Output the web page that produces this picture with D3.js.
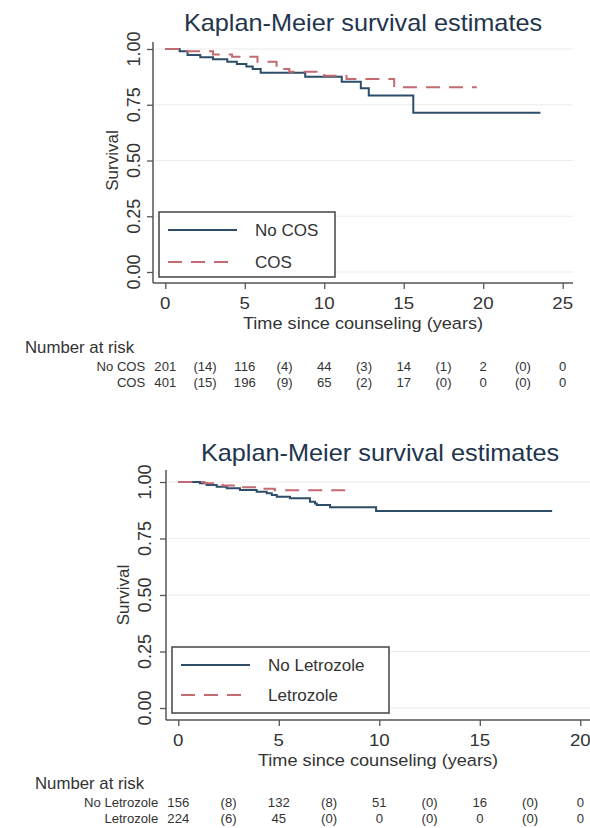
<!DOCTYPE html>
<html>
<head>
<meta charset="utf-8">
<script src="https://cdn.jsdelivr.net/npm/d3@7"></script>
<style>
  html, body { margin: 0; padding: 0; background: #fff; }
  svg { display: block; }
  text { font-family: "Liberation Sans", Arial, Helvetica, sans-serif; }
</style>
</head>
<body>
<svg id="chart" width="590" height="828"></svg>
<script>
// ---------------- DATA ----------------
const titleText = "Kaplan-Meier survival estimates";
const xTitle = "Time since counseling (years)";
const yTitle = "Survival";
const yTicks = [0, 0.25, 0.5, 0.75, 1.0];

// Chart 1: COS vs No COS
const chart1XTicks = [0, 5, 10, 15, 20, 25];
const noCosTimes = [0, 0.9, 1.4, 2.2, 3.0, 3.9, 4.5, 5.1, 5.5, 6.0, 8.8, 11.1, 12.3, 12.8, 15.6, 23.6];
const noCosSurv  = [1.0, 0.99, 0.973, 0.963, 0.954, 0.943, 0.933, 0.921, 0.91, 0.894, 0.876, 0.853, 0.824, 0.791, 0.714, 0.714];
const cosTimes = [0, 1.3, 3.0, 4.2, 5.8, 7.0, 7.8, 10.0, 11.4, 14.4, 19.6];
const cosSurv  = [1.0, 0.99, 0.975, 0.965, 0.943, 0.91, 0.898, 0.88, 0.866, 0.828, 0.828];
const chart1Groups = ["No COS", "COS"];
const chart1RiskTimes = [0, 5, 10, 15, 20, 25];
const noCosAtRisk = [201, 116, 44, 14, 2, 0];
const noCosCensored = [14, 4, 3, 1, 0];
const cosAtRisk = [401, 196, 65, 17, 0, 0];
const cosCensored = [15, 9, 2, 0, 0];

// Chart 2: Letrozole vs No Letrozole
const chart2XTicks = [0, 5, 10, 15, 20];
const noLetTimes = [0, 1.08, 1.41, 1.91, 2.41, 3.07, 3.9, 4.4, 4.65, 4.9, 5.56, 6.55, 6.8, 6.89, 7.55, 9.84, 18.6];
const noLetSurv  = [1.0, 0.994, 0.987, 0.979, 0.972, 0.965, 0.957, 0.95, 0.942, 0.935, 0.928, 0.913, 0.905, 0.898, 0.888, 0.872, 0.872];
const letTimes = [0, 1.3, 2.2, 3.0, 4.0, 4.8, 8.5];
const letSurv  = [1.0, 0.995, 0.985, 0.977, 0.97, 0.964, 0.964];
const chart2Groups = ["No Letrozole", "Letrozole"];
const chart2RiskTimes = [0, 5, 10, 15, 20];
const noLetAtRisk = [156, 132, 51, 16, 0];
const noLetCensored = [8, 8, 0, 0];
const letAtRisk = [224, 45, 0, 0, 0];
const letCensored = [6, 0, 0, 0];

// ---------------- STYLE ----------------
const colSolid = "#2e4d68";
const colDash = "#c46a72";
const axisCol = "#555";
const textCol = "#333";
const titleCol = "#22354d";
const gridCol = "#ececec";

const svg = d3.select("#chart");

function txt(g, x, y, s, o = {}) {
  const sx = o.sx || 1;
  const rot = o.rot || 0;
  return g.append("text")
    .attr("transform", `translate(${x},${y}) rotate(${rot}) scale(${sx},1)`)
    .attr("text-anchor", o.anchor || "middle")
    .attr("dy", "0.36em")
    .attr("font-size", o.size || 14)
    .attr("fill", o.fill || textCol)
    .text(s);
}

function drawChart(c) {
  const g = svg.append("g");
  const x = d3.scaleLinear().domain(c.xDomain).range(c.xRange);
  const y = d3.scaleLinear().domain([0, 1]).range(c.yRange);

  // title
  txt(g, c.titleX, c.titleY, titleText, { size: 23, sx: 1.1, fill: titleCol });

  // gridlines
  g.append("g").selectAll("line").data(yTicks).join("line")
    .attr("x1", c.axisX + 2).attr("x2", c.gridRight)
    .attr("y1", d => y(d)).attr("y2", d => y(d))
    .attr("stroke", gridCol).attr("stroke-width", 1.2);

  // y axis
  const yAxis = d3.axisLeft(y).tickValues(yTicks).tickSize(6).tickFormat("");
  const ya = g.append("g").attr("transform", `translate(${c.axisX},0)`).call(yAxis);
  ya.select(".domain").remove();
  ya.selectAll(".tick line").attr("stroke", axisCol).attr("stroke-width", 1.3);
  g.append("line").attr("x1", c.axisX).attr("x2", c.axisX)
    .attr("y1", c.axisTop).attr("y2", c.axisBottom)
    .attr("stroke", axisCol).attr("stroke-width", 1.5);
  yTicks.forEach(v => txt(g, c.yLabX, y(v), d3.format(".2f")(v), { size: 18, rot: -90 }));
  txt(g, c.yTitleX, y(0.5), yTitle, { size: 17, rot: -90 });

  // x axis
  const xAxis = d3.axisBottom(x).tickValues(c.xTicks).tickSize(6).tickFormat("");
  const xa = g.append("g").attr("transform", `translate(0,${c.axisBottom})`).call(xAxis);
  xa.select(".domain").remove();
  xa.selectAll(".tick line").attr("stroke", axisCol).attr("stroke-width", 1.3);
  g.append("line").attr("x1", c.axisX).attr("x2", c.gridRight)
    .attr("y1", c.axisBottom).attr("y2", c.axisBottom)
    .attr("stroke", axisCol).attr("stroke-width", 1.5);
  c.xTicks.forEach(v => txt(g, x(v), c.axisBottom + 20, String(v), { size: 17, sx: 1.1 }));
  txt(g, c.xTitleX, c.axisBottom + 40, xTitle, { size: 16.5, sx: 1.1 });

  // curves
  const line = d3.line().x(d => x(d[0])).y(d => y(d[1])).curve(d3.curveStepAfter);
  c.series.forEach(s => {
    const pts = s.t.map((t, i) => [t, s.v[i]]);
    g.append("path").datum(pts).attr("d", line)
      .attr("fill", "none").attr("stroke", s.color).attr("stroke-width", 2)
      .attr("stroke-dasharray", s.dash ? "14,9" : null);
  });

  // legend
  const L = c.legend;
  g.append("rect").attr("x", L.x).attr("y", L.y).attr("width", L.w).attr("height", L.h)
    .attr("fill", "#fff").attr("stroke", "#444").attr("stroke-width", 1.5);
  c.series.forEach((s, i) => {
    const ly = L.y + L.row0 + i * L.rowGap;
    g.append("line").attr("x1", L.x + 9).attr("x2", L.x + 78)
      .attr("y1", ly).attr("y2", ly)
      .attr("stroke", s.color).attr("stroke-width", 2)
      .attr("stroke-dasharray", s.dash ? "14,9" : null);
    txt(g, L.x + 96, ly, s.name, { size: 17, anchor: "start" });
  });

  // number at risk table
  txt(g, c.nrX, c.nrY, "Number at risk", { size: 16, anchor: "start", sx: 1.05 });
  c.series.forEach((s, i) => {
    const ry = c.nrY + 19 + i * 16;
    txt(g, x(0) - 20, ry, s.name, { size: 12.5, anchor: "end", sx: 1.05 });
    s.risk.forEach((n, k) => txt(g, x(c.riskTimes[k]), ry, String(n), { size: 12.5, sx: 1.05 }));
    s.cens.forEach((n, k) => txt(g, x((c.riskTimes[k] + c.riskTimes[k + 1]) / 2), ry, `(${n})`, { size: 12.5, sx: 1.05 }));
  });
}

drawChart({
  xDomain: [0, 25], xRange: [165.3, 562.7], yRange: [272, 49],
  xTicks: chart1XTicks, riskTimes: chart1RiskTimes,
  axisX: 153, axisTop: 42, axisBottom: 283, gridRight: 573,
  yLabX: 134, yTitleX: 112, xTitleX: 363,
  titleX: 363, titleY: 23,
  legend: { x: 159, y: 212, w: 176, h: 65, row0: 18, rowGap: 32 },
  nrX: 25, nrY: 347,
  series: [
    { name: chart1Groups[0], t: noCosTimes, v: noCosSurv, color: colSolid, dash: false, risk: noCosAtRisk, cens: noCosCensored },
    { name: chart1Groups[1], t: cosTimes, v: cosSurv, color: colDash, dash: true, risk: cosAtRisk, cens: cosCensored }
  ]
});

drawChart({
  xDomain: [0, 20], xRange: [178.3, 580.3], yRange: [708, 482],
  xTicks: chart2XTicks, riskTimes: chart2RiskTimes,
  axisX: 166, axisTop: 470, axisBottom: 720, gridRight: 590,
  yLabX: 145, yTitleX: 123, xTitleX: 378,
  titleX: 380, titleY: 453,
  legend: { x: 172, y: 647, w: 217, h: 66, row0: 18, rowGap: 30 },
  nrX: 35, nrY: 783,
  series: [
    { name: chart2Groups[0], t: noLetTimes, v: noLetSurv, color: colSolid, dash: false, risk: noLetAtRisk, cens: noLetCensored },
    { name: chart2Groups[1], t: letTimes, v: letSurv, color: colDash, dash: true, risk: letAtRisk, cens: letCensored }
  ]
});
</script>
</body>
</html>
